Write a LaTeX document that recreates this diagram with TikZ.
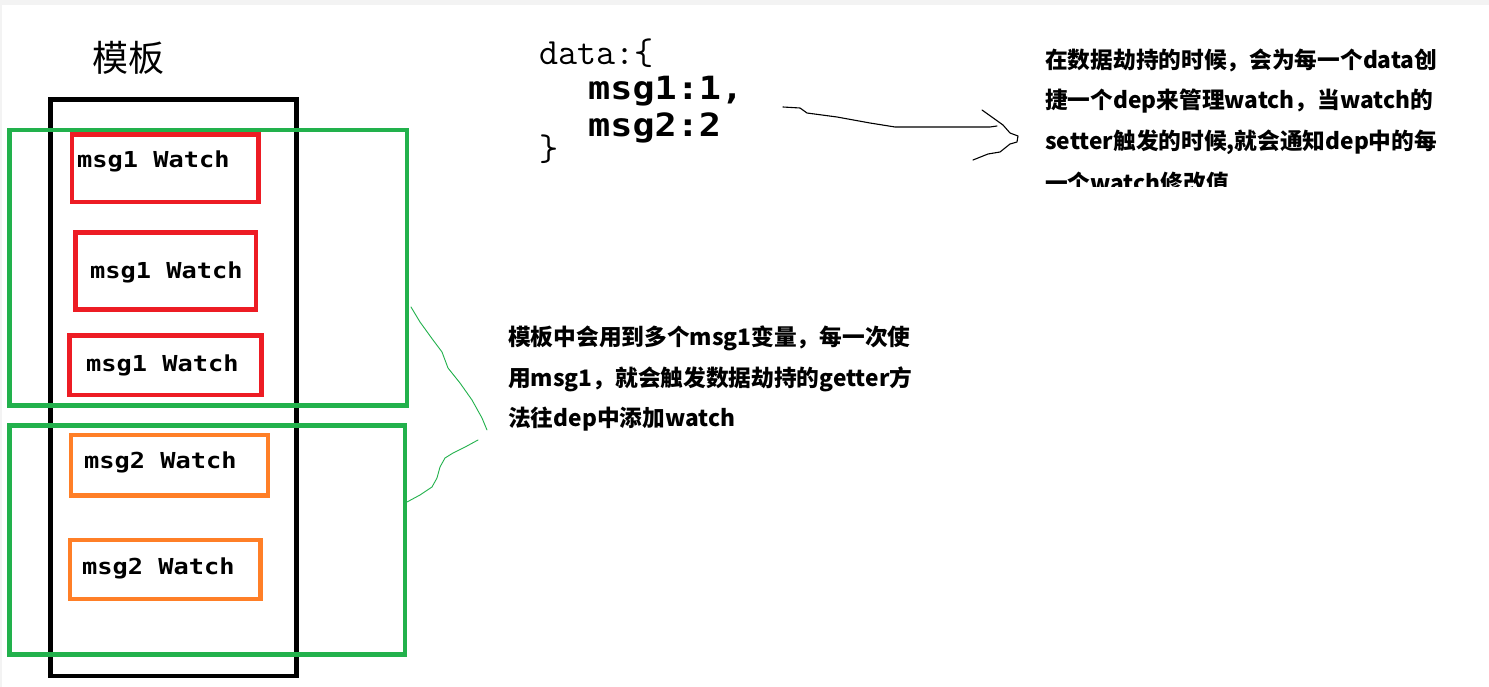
\documentclass[tikz,border=0pt]{standalone}
\usepackage{fontspec}
\newfontfamily\cjk{Noto Sans CJK SC}
\newfontfamily\dmono[FakeStretch=1.15]{DejaVu Sans Mono}
\definecolor{pgreen}{HTML}{22B14C}
\definecolor{pred}{HTML}{ED1C24}
\definecolor{porange}{HTML}{FF7F27}
\definecolor{pgray}{HTML}{F3F3F3}
\tikzset{
  frame/.style={line width=4.5pt},
  watchtxt/.style={inner sep=0pt, anchor=base west, font=\dmono\bfseries\fontsize{22}{22}\selectfont},
  notetxt/.style={inner sep=0pt, anchor=base west, font=\cjk\bfseries\fontsize{22.7}{22.7}\selectfont},
  codebig/.style={inner sep=0pt, anchor=base west, font=\dmono\bfseries\fontsize{32}{32}\selectfont},
  codett/.style={inner sep=0pt, anchor=base west, font=\ttfamily\fontsize{37}{37}\selectfont},
  hand/.style={line width=1pt, line join=round, line cap=round},
}
\begin{document}
\begin{tikzpicture}[x=1pt,y=-1pt]
\useasboundingbox (0,0) rectangle (1489,687);
\fill[pgray] (0,0) rectangle (1489,687);
\fill[white] (1.5,5) rectangle (1489,687);

% title
\node[inner sep=0pt, anchor=base west, font=\cjk\fontsize{36}{36}\selectfont] (title) at (92,72) {模板};

% template frame
\draw[frame, black] (50.5,99.5) rectangle (296.5,676);

% watch boxes
\draw[frame, pred] (72,134.5) rectangle (258.5,202);
\node[watchtxt] (w1) at (77,168) {msg1 Watch};
\draw[frame, pred] (75.5,232.5) rectangle (256,309.5);
\node[watchtxt] (w2) at (90,278) {msg1 Watch};
\draw[frame, pred] (69.5,335.5) rectangle (261.5,395);
\node[watchtxt] (w3) at (86,371) {msg1 Watch};
\draw[frame, porange] (71,435) rectangle (268,495.5);
\node[watchtxt] (w4) at (84,468) {msg2 Watch};
\draw[frame, porange] (70,540) rectangle (260.5,599);
\node[watchtxt] (w5) at (82,574) {msg2 Watch};

% green groups
\draw[frame, pgreen] (9.5,130) rectangle (407,405.5);
\draw[frame, pgreen] (9.5,425.5) rectangle (405,654.5);

% hand-drawn green bracket
\draw[hand, pgreen, line width=0.9pt] (411,307) -- (420,322) -- (433,340) -- (442,352) -- (448,368) -- (460,383) -- (472,400) -- (482,418) -- (487,430);
\draw[hand, pgreen, line width=0.9pt] (478,440) -- (467,446) -- (453,453) -- (445,458) -- (440,467) -- (437,478) -- (432,487) -- (420,495) -- (407,502);

% data code
\node[codett] (d0) at (539,65) {data:\{};
\node[codebig] (d1) at (588,100) {msg1:1,};
\node[codebig] (d2) at (588,137) {msg2:2};
\node[codett] (d3) at (539,161) {\}};

% hand-drawn arrow
\draw[hand, black, line width=1.1pt] (783,107) -- (800,108) -- (807,113) -- (837,117) -- (870,123) -- (895,127) -- (990,127) -- (997,126);
\draw[hand, black, line width=1.1pt] (982,110) -- (1003,125) -- (1010,133) -- (1018,136) -- (1017,142) -- (1010,144) -- (1000,152) -- (988,154) -- (973,160);

% right note
\node[notetxt] (r1) at (1045,69) {在数据劫持的时候，会为每一个data创};
\node[notetxt] (r2) at (1045,109) {捷一个dep来管理watch，当watch的};
\node[notetxt] (r3) at (1045,150) {setter触发的时候,就会通知dep中的每};
\begin{scope}
\clip (1030,165) rectangle (1480,187);
\node[notetxt] (r4) at (1045,192) {一个watch修改值};
\end{scope}

% middle note
\node[notetxt] (m1) at (508,345) {模板中会用到多个msg1变量，每一次使};
\node[notetxt] (m2) at (508,386) {用msg1，就会触发数据劫持的getter方};
\node[notetxt] (m3) at (508,426) {法往dep中添加watch};
\end{tikzpicture}
\end{document}
